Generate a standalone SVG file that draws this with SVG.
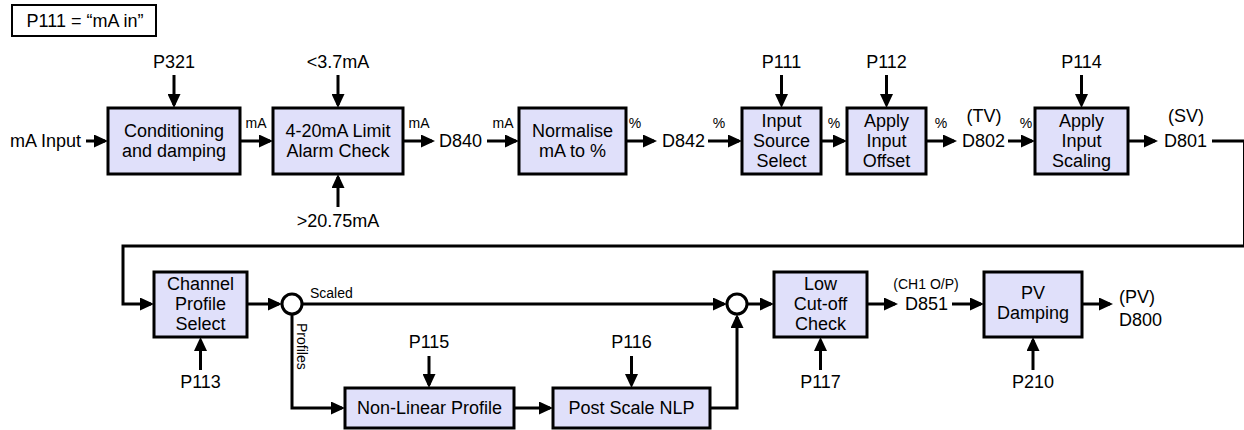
<svg xmlns="http://www.w3.org/2000/svg" width="1244" height="430" viewBox="0 0 1244 430">
<style>
text{font-family:"Liberation Sans",Arial,sans-serif;fill:#000}
.t{font-size:18px}
.s{font-size:14px}
.c{text-anchor:middle}
.box{fill:#E0E0FA;stroke:#000;stroke-width:3}
.ln{fill:none;stroke:#000;stroke-width:3}
.ar{marker-end:url(#ah)}
.j{fill:#fff;stroke:#000;stroke-width:3}
</style>
<defs>
<marker id="ah" markerUnits="userSpaceOnUse" markerWidth="14" markerHeight="13" refX="11" refY="6.5" orient="auto">
<path d="M0,0 L14,6.5 L0,13 Z" fill="#000"/>
</marker>
</defs>
<g id="connectors">
<path class="ln ar" d="M86,141 H105"/>
<path class="ln ar" d="M174,75 V105"/>
<path class="ln ar" d="M240,141 H270"/>
<path class="ln ar" d="M338,75 V105"/>
<path class="ln ar" d="M338,207 V177"/>
<path class="ln ar" d="M403,141 H432"/>
<path class="ln ar" d="M487,141 H516"/>
<path class="ln ar" d="M626,141 H654"/>
<path class="ln ar" d="M708,141 H739"/>
<path class="ln ar" d="M781.5,75 V105"/>
<path class="ln ar" d="M821,141 H844"/>
<path class="ln ar" d="M886.5,75 V105"/>
<path class="ln ar" d="M926,141 H954"/>
<path class="ln ar" d="M1008,141 H1032"/>
<path class="ln ar" d="M1081.5,75 V105"/>
<path class="ln ar" d="M1128,141 H1155"/>
<path class="ln ar" d="M1212,141 H1244.5 V246 H123 V304 H151"/>
<path class="ln ar" d="M200.5,370 V340"/>
<path class="ln ar" d="M247,304 H279"/>
<path class="ln ar" d="M302,304 H724"/>
<path class="ln ar" d="M292,314 V408 H342"/>
<path class="ln ar" d="M429,356 V385"/>
<path class="ln ar" d="M514,408 H550"/>
<path class="ln ar" d="M631.5,356 V385"/>
<path class="ln ar" d="M710,408 H737 V317"/>
<path class="ln ar" d="M747,304 H771"/>
<path class="ln ar" d="M820.5,370 V340"/>
<path class="ln ar" d="M867,304 H895"/>
<path class="ln ar" d="M952,304 H981"/>
<path class="ln ar" d="M1033,370 V340"/>
<path class="ln ar" d="M1082,304 H1110"/>
<text class="s c" x="256" y="128">mA</text>
<text class="s c" x="419" y="128">mA</text>
<text class="s c" x="503" y="128">mA</text>
<text class="s c" x="635" y="128">%</text>
<text class="s c" x="719" y="128">%</text>
<text class="s c" x="834" y="128">%</text>
<text class="s c" x="941" y="128">%</text>
<text class="s c" x="1026" y="128">%</text>
<text class="s" x="310" y="298">Scaled</text>
<text class="s" transform="translate(297,323) rotate(90)">Profiles</text>
</g>
<g id="mode">
<rect x="12" y="5" width="144" height="31" fill="#fff" stroke="#000" stroke-width="2"/>
<text class="t c" x="85" y="27">P111 = “mA in”</text>
</g>
<g id="mA-input"><text class="t" x="10" y="147">mA Input</text></g>
<g id="conditioning">
<rect class="box" x="108" y="108" width="132" height="66"/>
<text class="t c" x="174" y="137">Conditioning</text>
<text class="t c" x="174" y="157">and damping</text>
</g>
<g id="p321"><text class="t c" x="174" y="68">P321</text></g>
<g id="limit">
<rect class="box" x="273" y="108" width="130" height="66"/>
<text class="t c" x="338" y="137">4-20mA Limit</text>
<text class="t c" x="338" y="157">Alarm Check</text>
</g>
<g id="lo"><text class="t c" x="338" y="68">&lt;3.7mA</text></g>
<g id="hi"><text class="t c" x="338" y="227">&gt;20.75mA</text></g>
<g id="d840"><text class="t" x="439" y="147">D840</text></g>
<g id="normalise">
<rect class="box" x="519" y="108" width="107" height="66"/>
<text class="t c" x="572.5" y="137">Normalise</text>
<text class="t c" x="572.5" y="157">mA to %</text>
</g>
<g id="d842"><text class="t" x="662" y="147">D842</text></g>
<g id="source">
<rect class="box" x="742" y="108" width="79" height="66"/>
<text class="t c" x="781.5" y="127">Input</text>
<text class="t c" x="781.5" y="147">Source</text>
<text class="t c" x="781.5" y="167">Select</text>
</g>
<g id="p111"><text class="t c" x="781.5" y="68">P111</text></g>
<g id="offset">
<rect class="box" x="847" y="108" width="79" height="66"/>
<text class="t c" x="886.5" y="127">Apply</text>
<text class="t c" x="886.5" y="147">Input</text>
<text class="t c" x="886.5" y="167">Offset</text>
</g>
<g id="p112"><text class="t c" x="886.5" y="68">P112</text></g>
<g id="d802">
<text class="t c" x="984" y="122">(TV)</text>
<text class="t" x="962" y="147">D802</text>
</g>
<g id="scaling">
<rect class="box" x="1035" y="108" width="93" height="66"/>
<text class="t c" x="1081.5" y="127">Apply</text>
<text class="t c" x="1081.5" y="147">Input</text>
<text class="t c" x="1081.5" y="167">Scaling</text>
</g>
<g id="p114"><text class="t c" x="1081.5" y="68">P114</text></g>
<g id="d801">
<text class="t c" x="1186" y="122">(SV)</text>
<text class="t" x="1164" y="147">D801</text>
</g>
<g id="channel">
<rect class="box" x="154" y="272" width="93" height="65"/>
<text class="t c" x="200.5" y="290">Channel</text>
<text class="t c" x="200.5" y="310">Profile</text>
<text class="t c" x="200.5" y="330">Select</text>
</g>
<g id="p113"><text class="t c" x="200.5" y="388">P113</text></g>
<g id="split"><circle class="j" cx="292" cy="304" r="10"/></g>
<g id="nlp">
<rect class="box" x="345" y="388" width="169" height="40"/>
<text class="t c" x="429.5" y="414">Non-Linear Profile</text>
</g>
<g id="p115"><text class="t c" x="429" y="348">P115</text></g>
<g id="postscale">
<rect class="box" x="553" y="388" width="157" height="40"/>
<text class="t c" x="631.5" y="414">Post Scale NLP</text>
</g>
<g id="p116"><text class="t c" x="631.5" y="348">P116</text></g>
<g id="merge"><circle class="j" cx="737" cy="304" r="10"/></g>
<g id="cutoff">
<rect class="box" x="774" y="272" width="93" height="65"/>
<text class="t c" x="820.5" y="290">Low</text>
<text class="t c" x="820.5" y="310">Cut-off</text>
<text class="t c" x="820.5" y="330">Check</text>
</g>
<g id="p117"><text class="t c" x="820.5" y="388">P117</text></g>
<g id="d851">
<text class="s c" x="926" y="289">(CH1 O/P)</text>
<text class="t" x="905" y="310">D851</text>
</g>
<g id="pvdamping">
<rect class="box" x="984" y="272" width="98" height="65"/>
<text class="t c" x="1033" y="299">PV</text>
<text class="t c" x="1033" y="319">Damping</text>
</g>
<g id="p210"><text class="t c" x="1033" y="388">P210</text></g>
<g id="d800">
<text class="t" x="1119" y="303">(PV)</text>
<text class="t" x="1119" y="326">D800</text>
</g>
</svg>
